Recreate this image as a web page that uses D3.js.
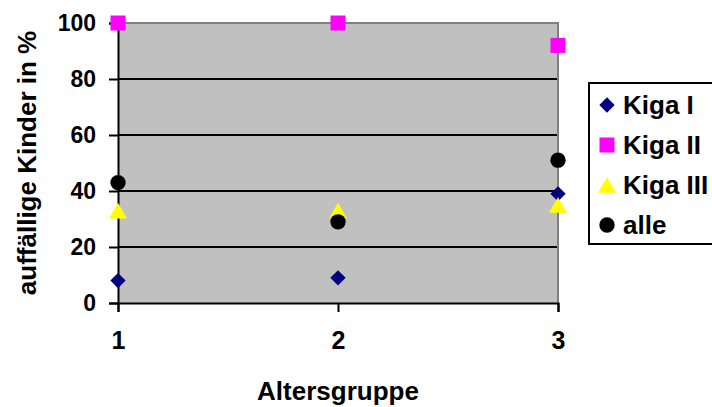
<!DOCTYPE html>
<html>
<head>
<meta charset="utf-8">
<script src="https://cdn.jsdelivr.net/npm/d3@7"></script>
<style>
  body { margin: 0; background: #fff; }
  svg { display: block; font-family: "Liberation Sans", Arial, sans-serif; font-weight: bold; }
</style>
</head>
<body>
<div id="chart"></div>
<script>
// data
const groups = ['1', '2', '3'];
const kigaI = [8, 9, 39];
const kigaII = [100, 100, 92];
const kigaIII = [33, 33, 35];
const alle = [43, 29, 51];
const yTicks = [0, 20, 40, 60, 80, 100];

const series = [
  { name: 'Kiga I', values: kigaI, color: '#000080', shape: 'diamond' },
  { name: 'Kiga II', values: kigaII, color: '#FF00FF', shape: 'square' },
  { name: 'Kiga III', values: kigaIII, color: '#FFFF00', shape: 'triangle' },
  { name: 'alle', values: alle, color: '#000000', shape: 'circle' }
];

const W = 712, H = 407;
const margin = { top: 23, right: 154, bottom: 104, left: 118 };
const width = W - margin.left - margin.right;
const height = H - margin.top - margin.bottom;

const svg = d3.select('#chart')
  .append('svg')
  .attr('width', W)
  .attr('height', H);

const x = d3.scalePoint()
  .domain(groups)
  .range([0, width])
  .padding(0);

const y = d3.scaleLinear()
  .domain([0, 100])
  .range([height, 0]);

const g = svg.append('g')
  .attr('transform', `translate(${margin.left},${margin.top})`);

// plot area
g.append('rect')
  .attr('width', width)
  .attr('height', height)
  .attr('fill', '#C0C0C0');

// gridlines
g.selectAll('.grid')
  .data(yTicks.filter(d => d > 0 && d < 100))
  .enter().append('line')
  .attr('x1', 0)
  .attr('x2', width)
  .attr('y1', d => y(d))
  .attr('y2', d => y(d))
  .attr('stroke', '#000')
  .attr('stroke-width', 2);

// gray top / right border
g.append('path')
  .attr('d', `M0,${y(100)}H${width}V${height}`)
  .attr('fill', 'none')
  .attr('stroke', '#808080')
  .attr('stroke-width', 2);

// axes
const yAxis = g.append('g')
  .call(d3.axisLeft(y).tickValues(yTicks).tickSize(9).tickPadding(13));
const xAxis = g.append('g')
  .attr('transform', `translate(0,${height})`)
  .call(d3.axisBottom(x).tickSize(9).tickPadding(19));

[yAxis, xAxis].forEach(ax => {
  ax.select('.domain').attr('stroke', '#000').attr('stroke-width', 2);
  ax.selectAll('.tick line').attr('stroke', '#000').attr('stroke-width', 2);
  ax.selectAll('.tick text')
    .attr('fill', '#000')
    .style('font-family', '"Liberation Sans", Arial, sans-serif')
    .style('font-weight', 'bold');
});
yAxis.selectAll('.tick text').style('font-size', '23px');
xAxis.selectAll('.tick text').style('font-size', '25px');

// markers (triangle nudged so its box, not its centroid, sits on the value)
const symbolFor = {
  diamond: d3.symbol().type(d3.symbolDiamond2).size(150),
  square: d3.symbol().type(d3.symbolSquare).size(225),
  triangle: d3.symbol().type(d3.symbolTriangle).size(140),
  circle: d3.symbol().type(d3.symbolCircle).size(185)
};
const nudge = { diamond: 0, square: 0, triangle: 2.6, circle: 0 };

series.forEach(s => {
  g.append('g')
    .selectAll('path')
    .data(s.values)
    .enter().append('path')
    .attr('d', symbolFor[s.shape])
    .attr('transform', (d, i) => `translate(${x(groups[i])},${y(d) + nudge[s.shape]})`)
    .attr('fill', s.color);
});

// axis titles
svg.append('text')
  .attr('x', margin.left + width / 2)
  .attr('y', 400)
  .attr('text-anchor', 'middle')
  .style('font-size', '26px')
  .text('Altersgruppe');

svg.append('text')
  .attr('transform', `translate(36,${margin.top + height / 2}) rotate(-90)`)
  .attr('text-anchor', 'middle')
  .style('font-size', '26px')
  .text('auffällige Kinder in %');

// legend
const legend = svg.append('g').attr('transform', 'translate(589,83)');
legend.append('rect')
  .attr('width', 130)
  .attr('height', 161)
  .attr('fill', '#fff')
  .attr('stroke', '#000')
  .attr('stroke-width', 2);

const item = legend.selectAll('.item')
  .data(series)
  .enter().append('g')
  .attr('transform', (d, i) => `translate(0,${22 + i * 40})`);

item.append('path')
  .attr('d', d => symbolFor[d.shape]())
  .attr('transform', d => `translate(18,${nudge[d.shape]})`)
  .attr('fill', d => d.color);

item.append('text')
  .attr('x', 34)
  .attr('dy', '0.35em')
  .style('font-size', '26px')
  .text(d => d.name);
</script>
</body>
</html>
